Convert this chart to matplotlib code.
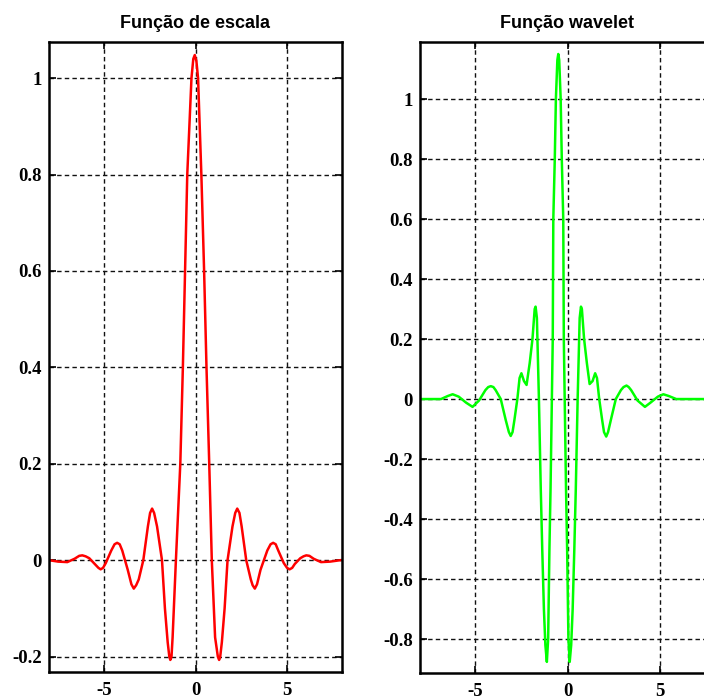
import matplotlib
matplotlib.use("Agg")
import matplotlib.pyplot as plt
from matplotlib.ticker import FuncFormatter

plt.rcParams['lines.scale_dashes'] = False

# Scaling function (phi)
phi_x = [-8.0, -7.5, -7.0, -6.6, -6.35, -6.18, -6.0, -5.8, -5.5, -5.3, -5.18, -5.05,
         -4.9, -4.6, -4.42, -4.28, -4.14, -4.0, -3.7, -3.5, -3.37, -3.24, -3.1, -2.85,
         -2.6, -2.48, -2.37, -2.26, -2.1, -1.83, -1.67, -1.52, -1.43, -1.375, -1.31,
         -1.25, -1.07, -0.83, -0.69, -0.57, -0.45, -0.22, -0.12, -0.04, 0.05, 0.14,
         0.32, 0.47, 0.6, 0.75, 0.89, 1.07, 1.22, 1.29, 1.35, 1.44, 1.59, 1.75, 2.02,
         2.17, 2.28, 2.4, 2.52, 2.77, 3.02, 3.12, 3.24, 3.36, 3.55, 3.92, 4.1, 4.24,
         4.38, 4.52, 4.82, 5.0, 5.14, 5.28, 5.42, 5.72, 5.9, 6.05, 6.22, 6.45, 6.85,
         7.35, 7.92]
phi_y = [0.0, -0.003, -0.004, 0.003, 0.009, 0.010, 0.008, 0.004, -0.008, -0.016, -0.019,
         -0.016, -0.006, 0.02, 0.033, 0.036, 0.033, 0.02, -0.02, -0.05, -0.059, -0.052,
         -0.04, 0.0, 0.07, 0.098, 0.107, 0.098, 0.07, 0.0, -0.1, -0.17, -0.2, -0.207,
         -0.2, -0.16, 0.0, 0.2, 0.4, 0.6, 0.8, 1.0, 1.04, 1.048, 1.035, 1.0, 0.8, 0.6,
         0.4, 0.2, 0.0, -0.16, -0.2, -0.207, -0.2, -0.17, -0.1, 0.0, 0.07, 0.098,
         0.107, 0.098, 0.07, 0.0, -0.04, -0.052, -0.059, -0.05, -0.02, 0.02, 0.033,
         0.036, 0.033, 0.02, -0.006, -0.016, -0.019, -0.016, -0.008, 0.004, 0.008,
         0.010, 0.009, 0.003, -0.004, -0.003, 0.0]

# Wavelet function (psi)
psi_x = [-7.95, -7.4, -6.86, -6.5, -6.23, -5.9, -5.5, -5.15, -4.8, -4.45, -4.3, -4.16,
         -4.02, -3.9, -3.62, -3.35, -3.18, -3.08, -2.98, -2.88, -2.72, -2.6, -2.5,
         -2.36, -2.22, -2.05, -1.9, -1.78, -1.73, -1.66, -1.55, -1.45, -1.37, -1.28,
         -1.2, -1.12, -1.05, -0.98, -0.92, -0.8, -0.77, -0.69, -0.63, -0.55, -0.5,
         -0.45, -0.37, -0.31, -0.23, -0.2, -0.08, -0.02, 0.05, 0.12, 0.2, 0.28, 0.37,
         0.45, 0.55, 0.66, 0.73, 0.78, 0.9, 1.05, 1.2, 1.36, 1.5, 1.6, 1.72, 1.88,
         1.98, 2.1, 2.2, 2.35, 2.62, 2.9, 3.04, 3.2, 3.32, 3.45, 3.8, 4.2, 4.5, 4.9,
         5.2, 5.5, 5.9, 6.4, 7.0, 8.0]
psi_y = [0.0, 0.0, 0.0, 0.01, 0.016, 0.008, -0.012, -0.026, -0.005, 0.03, 0.04, 0.043,
         0.04, 0.03, 0.0, -0.07, -0.11, -0.123, -0.11, -0.07, 0.0, 0.07, 0.086, 0.06,
         0.047, 0.12, 0.2, 0.3, 0.308, 0.27, 0.0, -0.3, -0.5, -0.7, -0.82, -0.876,
         -0.8, -0.5, -0.3, 0.2, 0.6, 0.8, 1.0, 1.13, 1.15, 1.13, 1.0, 0.8, 0.6, 0.2,
         -0.3, -0.5, -0.8, -0.876, -0.82, -0.7, -0.5, -0.3, 0.0, 0.27, 0.308, 0.3,
         0.2, 0.12, 0.05, 0.06, 0.086, 0.07, 0.0, -0.07, -0.11, -0.125, -0.11, -0.07,
         0.0, 0.03, 0.04, 0.045, 0.04, 0.03, -0.005, -0.026, -0.012, 0.008, 0.016,
         0.01, 0.0, 0.0, 0.0, 0.0]

titles = ["Função de escala", "Função wavelet"]
x_ticks = [-5, 0, 5]
phi_yticks = [-0.2, 0, 0.2, 0.4, 0.6, 0.8, 1]
psi_yticks = [-0.8, -0.6, -0.4, -0.2, 0, 0.2, 0.4, 0.6, 0.8, 1]

W, H = 704, 699
fig = plt.figure(figsize=(W / 100, H / 100), dpi=100)

ax1 = fig.add_axes([49 / W, 1 - 672 / H, (342 - 49) / W, (672 - 42) / H])
ax2 = fig.add_axes([420 / W, 1 - 673 / H, (715 - 420) / W, (673 - 42) / H])

fmt = FuncFormatter(lambda v, p: f"{v:g}")

def style(ax, yticks, ylim):
    ax.set_xlim(-8, 8)
    ax.set_ylim(*ylim)
    ax.set_xticks(x_ticks)
    ax.set_yticks(yticks)
    ax.xaxis.set_major_formatter(fmt)
    ax.yaxis.set_major_formatter(fmt)
    ax.grid(True, color='#111111', linestyle=(0, (3.2, 2.3)), linewidth=1.0)
    ax.set_axisbelow(True)
    ax.tick_params(direction='in', length=5, width=1.2, top=True, right=True,
                   labelsize=13.5)
    ax.tick_params(axis='x', pad=7)
    ax.tick_params(axis='y', pad=5)
    for lab in ax.get_xticklabels() + ax.get_yticklabels():
        lab.set_fontfamily('Liberation Serif')
        lab.set_fontweight('bold')
    for s in ax.spines.values():
        s.set_linewidth(1.8)
        s.set_color('black')

ax1.plot(phi_x, phi_y, color='#ff0000', linewidth=1.8)
style(ax1, phi_yticks, (-0.232, 1.075))
ax1.set_title(titles[0], fontfamily='Liberation Sans', fontweight='bold',
              fontsize=13, pad=10)

ax2.plot(psi_x, psi_y, color='#00ff00', linewidth=1.8)
style(ax2, psi_yticks, (-0.913, 1.19))
ax2.set_title(titles[1], fontfamily='Liberation Sans', fontweight='bold',
              fontsize=13, pad=10, x=(567 - 420) / (715 - 420))

fig.savefig("out.png", dpi=100)
